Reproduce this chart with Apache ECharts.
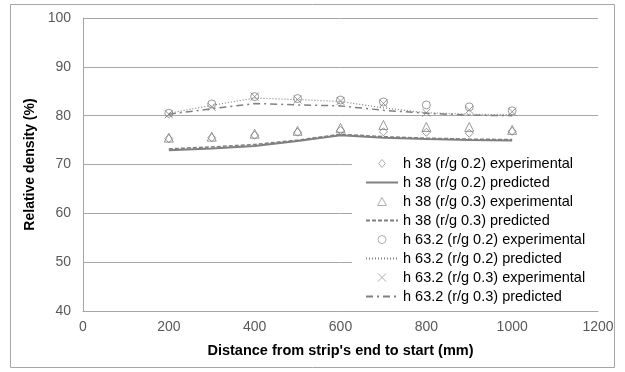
<!DOCTYPE html>
<html>
<head>
<meta charset="utf-8">
<script src="https://cdn.jsdelivr.net/npm/echarts@6/dist/echarts.min.js"></script>
<style>
  html, body { margin: 0; padding: 0; background: #fff; }
  #chart { width: 625px; height: 372px; }
</style>
</head>
<body>
<div id="chart"></div>
<script>
// distances along the strip (mm)
const distances = [200, 300, 400, 500, 600, 700, 800, 900, 1000]

// h 38 series
const h38g02Exp = [75.3, 75.5, 76.0, 76.6, 77.0, 76.7, 76.6, 76.4, 76.8]
const h38g02Pred = [72.9, 73.3, 73.8, 74.8, 76.0, 75.5, 75.2, 75.0, 74.9]
const h38g03Exp = [75.5, 75.7, 76.3, 76.9, 77.5, 78.1, 77.7, 77.7, 77.1]
const h38g03Pred = [73.2, 73.6, 74.1, 75.0, 76.2, 75.7, 75.4, 75.2, 75.1]

// h 63.2 series
const h63g02Exp = [80.5, 82.4, 83.9, 83.5, 83.2, 82.8, 82.2, 81.8, 81.0]
const h63g02Pred = [80.5, 82.1, 83.6, 83.3, 82.9, 81.6, 80.6, 80.3, 80.2]
const h63g03Exp = [80.3, 81.8, 83.9, 83.3, 83.0, 82.5, 80.6, 81.2, 80.8]
const h63g03Pred = [80.3, 81.4, 82.5, 82.2, 82.0, 81.1, 80.5, 80.1, 80.0]

const yTicks = { min: 40, max: 100, interval: 10 }
const xTicks = { min: 0, max: 1200, interval: 200 }

const grey = '#808080'
const crossPath = 'path://M0,0L10,10M10,0L0,10'
const diamondPath = 'path://M5,0L10,6L5,12L0,6Z'
const trianglePath = 'path://M5,0L10,9L0,9Z'

const pairs = arr => distances.map((d, i) => [d, arr[i]])

const expSeries = (name, values, symbol) => ({
  name,
  type: 'scatter',
  data: pairs(values),
  symbol,
  symbolSize: symbol === 'triangle' ? 9 : 8,
  itemStyle: { color: 'none', borderColor: grey, borderWidth: 1 },
  z: 3
})

const predSeries = (name, values, lineStyle) => ({
  name,
  type: 'line',
  data: pairs(values),
  symbol: 'none',
  lineStyle: Object.assign({ color: grey }, lineStyle),
  itemStyle: { color: 'transparent', borderColor: 'transparent' },
  z: 2
})

const series = [
  expSeries('h 38 (r/g 0.2) experimental', h38g02Exp, 'diamond'),
  predSeries('h 38 (r/g 0.2) predicted', h38g02Pred, { width: 2, type: 'solid' }),
  expSeries('h 38 (r/g 0.3) experimental', h38g03Exp, 'triangle'),
  predSeries('h 38 (r/g 0.3) predicted', h38g03Pred, { width: 1.5, type: [4, 2] }),
  expSeries('h 63.2 (r/g 0.2) experimental', h63g02Exp, 'circle'),
  predSeries('h 63.2 (r/g 0.2) predicted', h63g02Pred, { width: 1.2, type: [1, 2] }),
  expSeries('h 63.2 (r/g 0.3) experimental', h63g03Exp, crossPath),
  predSeries('h 63.2 (r/g 0.3) predicted', h63g03Pred, { width: 1.5, type: [7, 4, 2, 4] })
]

const legendIcons = { diamond: diamondPath, triangle: trianglePath, circle: 'circle' }
const legendData = series.map(s => {
  if (s.type === 'scatter') {
    return { name: s.name, icon: legendIcons[s.symbol] || s.symbol, itemStyle: { borderWidth: 1, borderColor: '#9a9a9a' } }
  }
  return { name: s.name, itemStyle: { color: 'transparent', borderColor: 'transparent' } }
})

const option = {
  animation: false,
  textStyle: { fontFamily: '"Liberation Sans", Arial, sans-serif' },
  grid: { left: 83, right: 27, top: 18, bottom: 61 },
  graphic: [{
    type: 'rect',
    shape: { x: 10.5, y: 4.5, width: 604, height: 363 },
    style: { fill: 'none', stroke: '#a6a6a6', lineWidth: 1 },
    silent: true
  }],
  xAxis: {
    type: 'value',
    ...xTicks,
    name: "Distance from strip's end to start (mm)",
    nameLocation: 'middle',
    nameGap: 32,
    nameTextStyle: { fontSize: 14.5, fontWeight: 'bold', color: '#000' },
    axisLine: { lineStyle: { color: '#a6a6a6' } },
    axisTick: { show: false },
    axisLabel: { fontSize: 14, color: '#595959', margin: 9, formatter: v => String(v) },
    splitLine: { show: false }
  },
  yAxis: {
    type: 'value',
    ...yTicks,
    name: 'Relative density (%)',
    nameLocation: 'middle',
    nameGap: 44,
    nameTextStyle: { fontSize: 14, fontWeight: 'bold', color: '#000' },
    axisLine: { show: true, lineStyle: { color: '#a6a6a6' } },
    axisTick: { show: false },
    axisLabel: { fontSize: 14, color: '#595959', margin: 12 },
    splitLine: { lineStyle: { color: '#a6a6a6' } }
  },
  legend: {
    orient: 'vertical',
    left: 352,
    top: 153,
    padding: [3, 18, 3, 13],
    backgroundColor: '#fff',
    itemWidth: 32,
    itemHeight: 8,
    itemGap: 4,
    data: legendData,
    textStyle: { fontSize: 14.5, lineHeight: 15, color: '#000' },
    z: 10
  },
  series
}

const myChart = echarts.init(document.getElementById('chart'))
myChart.setOption(option)
</script>
</body>
</html>
